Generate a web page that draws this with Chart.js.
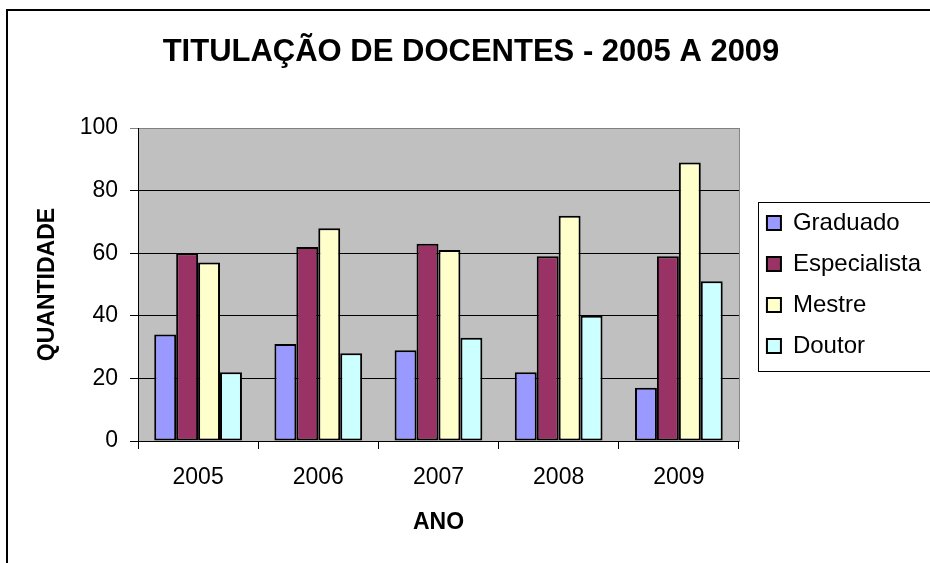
<!DOCTYPE html>
<html>
<head>
<meta charset="utf-8">
<script src="https://cdn.jsdelivr.net/npm/chart.js@4"></script>
<style>
  body { margin: 0; background: #fff; }
  canvas { display: block; }
</style>
</head>
<body>
<canvas id="docentes" width="930" height="563"></canvas>
<script>
// Dados
const anos = ['2005', '2006', '2007', '2008', '2009'];
const graduado = [34, 31, 29, 22, 17];
const especialista = [60, 62, 63, 59, 59];
const mestre = [57, 68, 61, 72, 89];
const doutor = [22, 28, 33, 40, 51];
const yTicks = [0, 20, 40, 60, 80, 100];

const FONT = '"Liberation Sans", Arial, sans-serif';

// Fundo cinza da area do grafico e moldura externa
const moldura = {
  id: 'moldura',
  beforeDraw(chart) {
    const { ctx, chartArea: a } = chart;
    ctx.save();
    ctx.fillStyle = '#fff';
    ctx.fillRect(0, 0, chart.width, chart.height);
    ctx.fillStyle = '#c0c0c0';
    ctx.fillRect(a.left, a.top, a.right - a.left, a.bottom - a.top);
    ctx.strokeStyle = '#808080';
    ctx.lineWidth = 1;
    ctx.strokeRect(a.left + 0.5, a.top + 0.5, a.right - a.left, a.bottom - a.top);
    ctx.strokeStyle = '#000';
    ctx.lineWidth = 2;
    ctx.strokeRect(7, 10, 1000, 1000);
    ctx.restore();
  },
  afterLayout(chart) {
    // empurra a legenda um pouco para a direita / baixo
    const lg = chart.legend;
    lg.left += 11; lg.right += 11;
    lg.top += 3; lg.bottom += 3;
    // titulo centrado um pouco mais a direita
    const t = chart.titleBlock;
    t.left += 11; t.right += 11;
  },
  afterDraw(chart) {
    const hb = chart.legend.legendHitBoxes;
    if (!hb || !hb.length) return;
    const { ctx } = chart;
    const first = hb[0], last = hb[hb.length - 1];
    const x = Math.round(first.left - 9) + 0.5;
    const y = Math.round(first.top - 9) + 0.5;
    const b = Math.round(last.top + last.height + 13) + 0.5;
    ctx.save();
    ctx.strokeStyle = '#000';
    ctx.lineWidth = 1;
    ctx.strokeRect(x, y, 400, b - y);
    ctx.restore();
  }
};

function serie(label, data, cor) {
  return {
    label: label,
    data: data,
    backgroundColor: cor,
    borderColor: '#000',
    borderWidth: 2,
    borderSkipped: false,
    barPercentage: 1,
    categoryPercentage: 0.73
  };
}

new Chart(document.getElementById('docentes'), {
  type: 'bar',
  data: {
    labels: anos,
    datasets: [
      serie('Graduado', graduado, '#9999ff'),
      serie('Especialista', especialista, '#993366'),
      serie('Mestre', mestre, '#ffffcc'),
      serie('Doutor', doutor, '#ccffff')
    ]
  },
  options: {
    responsive: false,
    animation: false,
    layout: { padding: { left: 0, right: 10, top: 0, bottom: 0 } },
    plugins: {
      tooltip: { enabled: false },
      title: {
        display: true,
        text: 'TITULAÇÃO DE DOCENTES - 2005 A 2009',
        color: '#000',
        font: { family: FONT, size: 31, weight: 'bold' },
        padding: { top: 33.4, bottom: 57.4 }
      },
      legend: {
        position: 'right',
        align: 'center',
        labels: {
          color: '#000',
          font: { family: FONT, size: 24 },
          boxWidth: 14,
          boxHeight: 14,
          padding: 17
        }
      }
    },
    scales: {
      x: {
        afterFit(scale) { scale.height = 122; },
        grid: { drawOnChartArea: false, drawTicks: true, tickLength: 8, color: '#000', offset: true },
        border: { display: true, color: '#000', width: 1 },
        ticks: { color: '#000', padding: 15, font: { family: FONT, size: 23 } },
        title: {
          display: true,
          text: 'ANO',
          color: '#000',
          font: { family: FONT, size: 23, weight: 'bold' },
          padding: { top: 0, bottom: 27 }
        }
      },
      y: {
        min: 0,
        max: 100,
        afterFit(scale) { scale.width = 138; },
        afterBuildTicks(scale) { scale.ticks = yTicks.map(v => ({ value: v })); },
        grid: {
          drawTicks: true,
          tickLength: 8,
          color: ctx => ctx.tick && ctx.tick.value === 100 ? '#808080' : '#000'
        },
        border: { display: true, color: '#000', width: 1 },
        ticks: { color: '#000', padding: 12, font: { family: FONT, size: 23 } },
        title: {
          display: true,
          text: 'QUANTIDADE',
          color: '#000',
          font: { family: FONT, size: 23, weight: 'bold' },
          padding: { top: 34, bottom: 0 }
        }
      }
    }
  },
  plugins: [moldura]
});
</script>
</body>
</html>
